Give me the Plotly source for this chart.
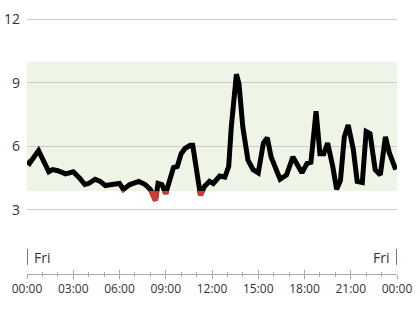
import plotly.graph_objects as go

# ---- data ----
day = "2024-01-05"
next_day = "2024-01-06"
times = ["00:00", "00:10", "00:45", "01:05", "01:25", "01:40", "02:00", "02:30", "03:00", "03:25",
         "03:45", "04:00", "04:25", "04:45", "05:05", "05:30", "06:00", "06:15", "06:40", "07:15",
         "07:40", "08:00", "08:20", "08:30", "08:45", "09:00", "09:15", "09:30", "09:45", "10:00",
         "10:15", "10:35", "10:45", "11:00", "11:15", "11:30", "11:50", "12:05", "12:30", "12:50",
         "13:05", "13:15", "13:35", "13:45", "14:00", "14:20", "14:40", "15:00", "15:20", "15:35",
         "15:50", "16:25", "16:50", "17:15", "17:50", "18:10", "18:25", "18:45", "19:00", "19:15",
         "19:30", "19:50", "20:05", "20:20", "20:35", "20:50", "21:10", "21:25", "21:45", "22:00",
         "22:15", "22:35", "22:55", "23:15", "23:30", "23:55"]
glucose = [5.3, 5.2, 5.8, 5.3, 4.8, 4.9, 4.85, 4.7, 4.8, 4.5,
           4.2, 4.25, 4.45, 4.35, 4.15, 4.2, 4.25, 3.97, 4.2, 4.35,
           4.2, 3.97, 3.45, 4.25, 4.2, 3.78, 4.4, 5.0, 5.05, 5.65,
           5.9, 6.05, 6.05, 4.9, 3.7, 4.1, 4.35, 4.25, 4.6, 4.55,
           5.05, 6.9, 9.4, 8.95, 6.9, 5.35, 4.9, 4.75, 6.15, 6.4,
           5.5, 4.45, 4.65, 5.5, 4.75, 5.2, 5.25, 7.65, 5.65, 5.65,
           6.15, 5.05, 3.97, 4.4, 6.45, 7.0, 5.85, 4.35, 4.3, 6.7,
           6.6, 4.9, 4.65, 6.45, 5.7, 4.9]
y_ticks = [3, 6, 9, 12]
low_limit = 3.9
high_limit = 10.0
day_label = "Fri"

x_vals = [f"{day} {t}" for t in times]
x_start = f"{day} 00:00"
x_end = f"{next_day} 00:00"

# ---- layout geometry ----
W, H = 420, 309
y_lo, y_hi = 2.0, 12.5
dom_top = 1 - 8.4 / H
dom_bot = 1 - 231.2 / H
def paper_y(v):
    return dom_bot + (v - y_lo) / (y_hi - y_lo) * (dom_top - dom_bot)

x_dom = [27 / W, 397 / W]
axis_pos = 1 - 273.5 / H
font_fam = "Open Sans"

fig = go.Figure()
fig.add_trace(go.Scatter(x=x_vals, y=glucose, mode="lines",
                         line=dict(color="#000000", width=5),
                         xaxis="x", yaxis="y", hoverinfo="skip"))
fig.add_trace(go.Scatter(x=x_vals, y=glucose, mode="lines",
                         line=dict(color="#d43a32", width=5),
                         xaxis="x", yaxis="y2", hoverinfo="skip"))

fig.add_shape(type="rect", xref="paper", yref="y", x0=x_dom[0], x1=x_dom[1],
              y0=low_limit, y1=high_limit, fillcolor="#eef4e6", line=dict(width=0),
              layer="below")

# day markers
for xv in (x_start, x_end):
    fig.add_shape(type="line", xref="x", yref="paper", x0=xv, x1=xv,
                  y0=1 - 265 / H, y1=1 - 249 / H, line=dict(color="#444444", width=1.5))
fig.add_annotation(x=x_start, y=1 - 257 / H, xref="x", yref="paper", text=day_label,
                   showarrow=False, xanchor="left", yanchor="middle", xshift=5,
                   font=dict(family=font_fam, size=14, color="#333333"))
fig.add_annotation(x=x_end, y=1 - 257 / H, xref="x", yref="paper", text=day_label,
                   showarrow=False, xanchor="right", yanchor="middle", xshift=-6,
                   font=dict(family=font_fam, size=14, color="#333333"))

fig.update_layout(
    width=W, height=H,
    margin=dict(l=0, r=0, t=0, b=0, autoexpand=False),
    paper_bgcolor="white", plot_bgcolor="rgba(0,0,0,0)",
    showlegend=False,
    font=dict(family=font_fam, color="#333333"),
    xaxis=dict(domain=x_dom, type="date", range=[x_start, x_end], automargin=False,
               anchor="free", position=axis_pos,
               showgrid=False, zeroline=False,
               showline=True, linecolor="#aaaaaa", linewidth=1,
               ticks="outside", ticklen=4, tickcolor="#aaaaaa", tickwidth=1,
               dtick=3 * 3600000, tick0=x_start, tickformat="%H:%M",
               tickfont=dict(family=font_fam, size=12, color="#333333"),
               minor=dict(dtick=3600000, ticks="outside", ticklen=2, tickcolor="#aaaaaa", showgrid=False)),
    xaxis2=dict(domain=x_dom, type="date", range=[x_start, x_end], overlaying="x", automargin=False,
                anchor="free", position=axis_pos, showgrid=False, zeroline=False,
                showline=False, showticklabels=False,
                ticks="inside", ticklen=4, tickcolor="#aaaaaa", tickwidth=1,
                dtick=3 * 3600000, tick0=x_start,
                minor=dict(dtick=3600000, ticks="inside", ticklen=2, tickcolor="#aaaaaa", showgrid=False)),
    yaxis=dict(domain=[dom_bot, dom_top], range=[y_lo, y_hi], anchor="x", automargin=False,
               tickvals=y_ticks, showgrid=True, gridcolor="#cccccc", gridwidth=1,
               zeroline=False, showline=False, ticks="", ticklabelstandoff=6,
               tickfont=dict(family=font_fam, size=14, color="#333333")),
    yaxis2=dict(domain=[dom_bot, paper_y(low_limit)], range=[y_lo, low_limit], anchor="x",
                automargin=False,
                showgrid=False, zeroline=False, showline=False, showticklabels=False,
                ticks=""),
)
# dummy trace so xaxis2 renders
fig.add_trace(go.Scatter(x=[x_start], y=[None], xaxis="x2", yaxis="y", mode="lines",
                         hoverinfo="skip"))

fig.write_html("out.html")
